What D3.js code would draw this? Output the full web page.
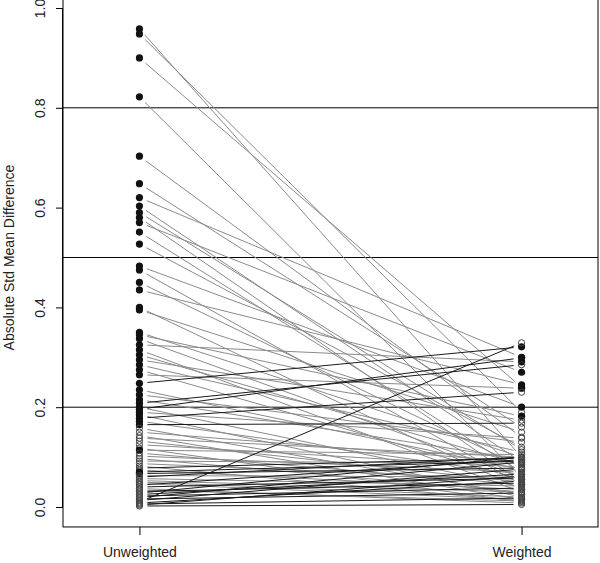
<!DOCTYPE html>
<html>
<head>
<meta charset="utf-8">
<script src="https://cdn.jsdelivr.net/npm/d3@7"></script>
<style>
  body { margin: 0; background: #fff; }
  svg { font-family: "Liberation Sans", Arial, sans-serif; }
</style>
</head>
<body>
<svg id="chart" width="600" height="563"></svg>
<script>
// values
const groups = ["Unweighted", "Weighted"];
const yTicks = [0, 0.2, 0.4, 0.6, 0.8, 1.0];
const refLines = [0.2, 0.5, 0.8];

const unweighted = [0.958, 0.948, 0.900, 0.822, 0.703, 0.648, 0.620, 0.603, 0.590, 0.580,
  0.570, 0.551, 0.527, 0.483, 0.475, 0.450, 0.435, 0.400, 0.395, 0.350,
  0.345, 0.337, 0.325, 0.315, 0.305, 0.295, 0.285, 0.275, 0.265, 0.248,
  0.235, 0.225, 0.215, 0.208, 0.200, 0.196, 0.190, 0.185, 0.178, 0.172,
  0.165, 0.158, 0.150, 0.143, 0.138, 0.132, 0.125, 0.118, 0.114, 0.108,
  0.102, 0.097, 0.092, 0.087, 0.082, 0.078, 0.074, 0.070, 0.067, 0.063,
  0.060, 0.057, 0.053, 0.050, 0.047, 0.044, 0.040, 0.037, 0.034, 0.031,
  0.028, 0.025, 0.022, 0.019, 0.016, 0.013, 0.010, 0.008, 0.006, 0.004, 0.002];
const weighted = [0.100, 0.190, 0.240, 0.060, 0.140, 0.160, 0.300, 0.090, 0.115, 0.050,
  0.270, 0.070, 0.120, 0.200, 0.045, 0.080, 0.245, 0.035, 0.150, 0.100,
  0.182, 0.060, 0.291, 0.030, 0.085, 0.174, 0.110, 0.055, 0.238, 0.321,
  0.075, 0.130, 0.095, 0.285, 0.040, 0.299, 0.138, 0.020, 0.230, 0.065,
  0.168, 0.025, 0.090, 0.015, 0.100, 0.050, 0.080, 0.010, 0.105, 0.045,
  0.070, 0.030, 0.088, 0.055, 0.012, 0.098, 0.035, 0.092, 0.078, 0.060,
  0.100, 0.042, 0.030, 0.020, 0.015, 0.095, 0.058, 0.008, 0.012, 0.048,
  0.100, 0.066, 0.038, 0.090, 0.028, 0.076, 0.329, 0.052, 0.018, 0.062, 0.005];
// 1 = significant (filled dot)
const unweightedSig = [1,1,1,1,1,1,1,1,1,1, 1,1,1,1,1,1,1,1,1,1, 1,1,1,1,1,1,1,1,1,1,
  1,1,1,1,1,1,1,1,1,1, 1,0,0,0,0,0,0,0,1,0, 0,0,0,0,0,0,0,1,1,0,
  0,0,0,0,0,0,0,0,0,0, 0,0,0,0,0,0,0,0,0,0,0];
const weightedSig = [0,0,1,0,0,0,1,0,0,0, 1,0,0,1,0,0,1,0,0,0, 1,0,1,0,0,0,0,0,1,1,
  0,0,0,0,0,1,0,0,0,0, 0,0,0,0,0,0,0,0,0,0, 0,0,0,0,0,0,0,0,0,0,
  0,0,0,0,0,0,0,0,0,0, 0,0,0,0,0,0,0,0,0,0,0];

const svg = d3.select("#chart");
const x = d3.scaleLinear().domain([0.8, 2.2]).range([63, 598]);
const y = d3.scaleLinear().domain([0, 1]).range([507, 8]);

const pairs = unweighted.map((u, i) => ({ u, w: weighted[i], su: unweightedSig[i], sw: weightedSig[i] }));

// reference lines
svg.append("g").selectAll("line")
  .data(refLines)
  .join("line")
  .attr("x1", x(0.8)).attr("x2", x(2.2))
  .attr("y1", d => y(d)).attr("y2", d => y(d))
  .attr("stroke", "#000").attr("stroke-width", 1);

// connecting segments, gapped at both ends like type="b"
const gap = 8;
svg.append("g").selectAll("line")
  .data(pairs)
  .join("line")
  .each(function(d) {
    const x1 = x(1), y1 = y(d.u), x2 = x(2), y2 = y(d.w);
    const len = Math.hypot(x2 - x1, y2 - y1);
    const dx = (x2 - x1) / len * gap, dy = (y2 - y1) / len * gap;
    d3.select(this)
      .attr("x1", x1 + dx).attr("y1", y1 + dy)
      .attr("x2", x2 - dx).attr("y2", y2 - dy);
  })
  .attr("stroke", d => d.w > d.u ? "#1a1a1a" : "#8a8a8a")
  .attr("stroke-width", 1);

// points
const pts = [];
pairs.forEach(d => {
  pts.push({ g: 1, v: d.u, s: d.su });
  pts.push({ g: 2, v: d.w, s: d.sw });
});
svg.append("g").selectAll("circle")
  .data(pts)
  .join("circle")
  .attr("cx", d => x(d.g))
  .attr("cy", d => y(d.v))
  .attr("r", d => d.s ? 3.6 : 3.1)
  .attr("fill", d => d.s ? "#111" : "none")
  .attr("stroke", d => d.s ? "none" : "#444")
  .attr("stroke-width", 1);

// box
svg.append("rect")
  .attr("x", x(0.8)).attr("y", y(1.04))
  .attr("width", x(2.2) - x(0.8))
  .attr("height", y(-0.04) - y(1.04))
  .attr("fill", "none").attr("stroke", "#000").attr("stroke-width", 1);

// y axis
const yAxis = svg.append("g")
  .attr("transform", `translate(${x(0.8)},0)`)
  .call(d3.axisLeft(y).tickValues(yTicks).tickFormat(d3.format(".1f")).tickSize(7).tickSizeOuter(0));
yAxis.select(".domain").attr("d", `M-0.5,${y(0)}V${y(1)}`).attr("stroke", "#000");
yAxis.selectAll("text")
  .attr("transform", "rotate(-90)")
  .attr("x", 0)
  .attr("y", -18)
  .attr("dy", 0)
  .attr("text-anchor", "middle")
  .style("font-size", "14px")
  .attr("fill", "#222");

// x axis
const xAxis = svg.append("g")
  .attr("transform", `translate(0,${y(-0.04)})`)
  .call(d3.axisBottom(x).tickValues([1, 2]).tickFormat((d, i) => groups[i]).tickSize(8).tickSizeOuter(0));
xAxis.select(".domain").remove();
xAxis.selectAll("text")
  .attr("y", 30)
  .attr("dy", 0)
  .style("font-size", "14px")
  .attr("fill", "#222");

svg.append("text")
  .attr("transform", `translate(14,${y(0.5)}) rotate(-90)`)
  .attr("text-anchor", "middle")
  .style("font-size", "14px")
  .attr("fill", "#222")
  .text("Absolute Std Mean Difference");
</script>
</body>
</html>
